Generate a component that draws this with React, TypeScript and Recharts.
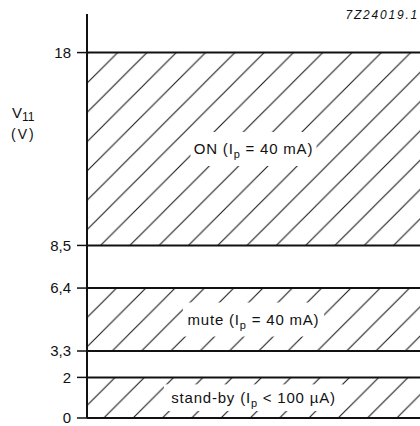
import React from "react";
import {
  ComposedChart,
  Line,
  ReferenceArea,
  ReferenceLine,
  XAxis,
  YAxis,
} from "recharts";

// operating regions of pin 11 (supply) voltage
const regionNames = ["ON", "mute", "stand-by"];
const regionLow = [8.5, 3.3, 0];
const regionHigh = [18, 6.4, 2];
const currentSign = ["=", "=", "<"];
const currentValue = ["40 mA", "40 mA", "100 µA"];

const yTicks = [0, 2, 3.3, 6.4, 8.5, 18];
const yDomain = [0, 19.9];
const drawingCode = "7Z24019.1";

const FONT = "'Liberation Sans', Arial, Helvetica, sans-serif";
const HATCH = 29.3;

// boundary levels, carried by an invisible series so the axes get laid out
const chartData = yTicks.map((t, i) => ({ x: i, v: t }));

function RegionLabel(props: any) {
  const { viewBox, name, sign, value } = props;
  if (!viewBox) return null;
  const cx = viewBox.x + viewBox.width / 2;
  const cy = viewBox.y + viewBox.height / 2;
  const chars = `${name} (Ip ${sign} ${value})`.length;
  const boxW = chars * 7.6 + 12;
  const boxH = Math.min(34, viewBox.height - 14);
  return (
    <g>
      <rect
        x={cx - boxW / 2}
        y={cy - boxH / 2}
        width={boxW}
        height={boxH}
        fill="#fff"
      />
      <text
        x={cx}
        y={cy + 5}
        textAnchor="middle"
        fontFamily={FONT}
        fontSize={15}
        letterSpacing={0.8}
        fill="#111"
      >
        {`${name} (I`}
        <tspan dy={4} fontSize={11}>
          p
        </tspan>
        <tspan dy={-4}>{` ${sign} ${value})`}</tspan>
      </text>
    </g>
  );
}

function AxisTitle(props: any) {
  const { viewBox } = props;
  if (!viewBox) return null;
  const x = viewBox.x + 12;
  const y = viewBox.y + 104;
  return (
    <g fontFamily={FONT} fill="#111">
      <text x={x} y={y} fontSize={15}>
        V
        <tspan dy={3} fontSize={12}>
          11
        </tspan>
      </text>
      <text x={x - 1} y={y + 21} fontSize={14} letterSpacing={2}>
        (V)
      </text>
    </g>
  );
}

export default function App() {
  return (
    <div
      style={{
        position: "absolute",
        left: 0,
        top: 0,
        width: 420,
        height: 426,
        background: "#fff",
      }}
    >
      <ComposedChart
        width={420}
        height={426}
        data={chartData}
        margin={{ top: 14, right: 0, bottom: 8, left: 0 }}
      >
        <defs>
          <pattern
            id="hatch"
            patternUnits="userSpaceOnUse"
            x={23.7}
            y={0}
            width={HATCH}
            height={HATCH}
          >
            <line x1={-2} y1={HATCH + 2} x2={HATCH + 2} y2={-2} stroke="#111" strokeWidth={1} />
            <line x1={-2} y1={2} x2={2} y2={-2} stroke="#111" strokeWidth={1} />
            <line x1={HATCH - 2} y1={HATCH + 2} x2={HATCH + 2} y2={HATCH - 2} stroke="#111" strokeWidth={1} />
          </pattern>
        </defs>
        <XAxis dataKey="x" type="number" domain={[0, 5]} hide />
        <YAxis
          type="number"
          domain={yDomain}
          ticks={yTicks}
          width={87}
          interval={0}
          tickSize={10}
          tickMargin={6}
          tickFormatter={(v: number) => String(v).replace(".", ",")}
          tick={{ fill: "#111", fontSize: 15, fontFamily: FONT }}
          axisLine={{ stroke: "#111", strokeWidth: 2 }}
          tickLine={{ stroke: "#111", strokeWidth: 1.5 }}
          label={<AxisTitle />}
        />
        {regionNames.map((name, i) => (
          <ReferenceArea
            key={name}
            y1={regionLow[i]}
            y2={regionHigh[i]}
            fill="url(#hatch)"
            fillOpacity={1}
            stroke="none"
            ifOverflow="visible"
            label={
              <RegionLabel
                name={name}
                sign={currentSign[i]}
                value={currentValue[i]}
              />
            }
          />
        ))}
        {yTicks.map((t) => (
          <ReferenceLine
            key={t}
            y={t}
            stroke="#111"
            strokeWidth={2}
            ifOverflow="visible"
          />
        ))}
        <Line
          dataKey="v"
          stroke="none"
          dot={false}
          activeDot={false}
          legendType="none"
          isAnimationActive={false}
        />
      </ComposedChart>
      <div
        style={{
          position: "absolute",
          right: 1,
          top: 8,
          fontFamily: FONT,
          fontSize: 12,
          fontStyle: "italic",
          letterSpacing: 1.8,
          color: "#111",
        }}
      >
        {drawingCode}
      </div>
    </div>
  );
}
